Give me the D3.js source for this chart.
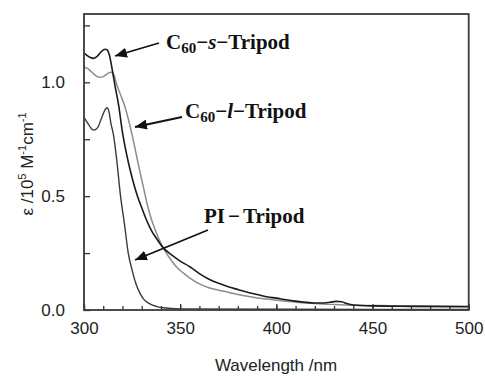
<!DOCTYPE html>
<html><head><meta charset="utf-8">
<script src="https://cdn.jsdelivr.net/npm/d3@7"></script>
<style>body{margin:0;background:#fff}svg{display:block}</style>
</head><body><svg id="c" width="485" height="376"></svg>
<script>
// C60-s-Tripod (black)
const sWl  = [300,303,305,307,309,311,312,313,315,316,318,320,322,324,326,328,330,332,335,338,341,345,350,355,360,365,370,375,380,385,390,395,400,405,410,415,420,425,428,431,434,437,440,450,470,500];
const sVal = [1.128,1.11,1.105,1.115,1.135,1.145,1.143,1.125,1.04,0.99,0.90,0.78,0.69,0.615,0.55,0.495,0.45,0.405,0.35,0.31,0.275,0.245,0.215,0.19,0.16,0.135,0.117,0.102,0.09,0.078,0.068,0.058,0.052,0.045,0.039,0.034,0.031,0.031,0.034,0.038,0.036,0.027,0.022,0.018,0.016,0.014];
// C60-l-Tripod (grey)
const lWl  = [300,302,304,306,308,310,312,314,315.5,317,319,321,323,325,327,329,331,333,335,337,339,341,344,348,352,356,360,365,370,375,380,385,390,395,400,410,420,430,440,460,500];
const lVal = [1.066,1.06,1.045,1.03,1.022,1.025,1.037,1.044,1.035,0.99,0.945,0.90,0.84,0.77,0.69,0.61,0.535,0.46,0.40,0.352,0.31,0.275,0.235,0.19,0.16,0.135,0.115,0.098,0.087,0.078,0.068,0.06,0.053,0.048,0.043,0.034,0.028,0.024,0.021,0.019,0.017];
// PI-Tripod (dark)
const pWl  = [300,302,304,305,307,309,311,312,313,314,315.3,317,319,321,323,325,327,329,331,334,338,341,350,400,500];
const pVal = [0.846,0.82,0.795,0.79,0.80,0.84,0.88,0.888,0.87,0.82,0.77,0.66,0.50,0.38,0.25,0.175,0.115,0.075,0.048,0.028,0.015,0.01,0.005,0.003,0.002];

const xTicks = [300,350,400,450,500];
const yTicks = [0,0.5,1.0];
const labels = ["C60-s-Tripod","C60-l-Tripod","PI-Tripod"];

const svg = d3.select("#c");
const m = {l:84, t:14, r:16.3, b:66};
const W = 485, H = 376;
const x = d3.scaleLinear().domain([300,500]).range([m.l, W-m.r]);
const y = d3.scaleLinear().domain([0,1.3]).range([H-m.b, m.t]);

// minor ticks
const xMinor = d3.range(300,501,10);
const yMinor = d3.range(0,1.31,0.25);
svg.append("g").attr("transform",`translate(0,${H-m.b})`)
  .call(d3.axisBottom(x).tickValues(xMinor).tickSize(-4).tickFormat(""))
  .call(g=>g.select(".domain").remove())
  .call(g=>g.selectAll("line").attr("stroke","#333").attr("stroke-width",1.3));
svg.append("g").attr("transform",`translate(0,${H-m.b})`)
  .call(d3.axisBottom(x).tickValues(xTicks).tickSize(-6).tickPadding(12).tickFormat(d3.format("d")))
  .call(g=>g.select(".domain").remove())
  .call(g=>g.selectAll("line").attr("stroke","#333").attr("stroke-width",1.3))
  .call(g=>g.selectAll("text").attr("font-family","Liberation Sans, Arial, sans-serif").attr("font-size",17).attr("fill","#222"));
svg.append("g").attr("transform",`translate(${m.l},0)`)
  .call(d3.axisLeft(y).tickValues(yMinor).tickSize(-6).tickFormat(""))
  .call(g=>g.select(".domain").remove())
  .call(g=>g.selectAll("line").attr("stroke","#333").attr("stroke-width",1.3));
svg.append("g").attr("transform",`translate(${m.l},0)`)
  .call(d3.axisLeft(y).tickValues(yTicks).tickSize(0).tickPadding(19).tickFormat(d3.format(".1f")))
  .call(g=>g.select(".domain").remove())
  .call(g=>g.selectAll("text").attr("font-family","Liberation Sans, Arial, sans-serif").attr("font-size",17).attr("fill","#222"));

const line = d3.line().x(d=>x(d[0])).y(d=>y(d[1])).curve(d3.curveMonotoneX);
const zip = (a,b)=>a.map((v,i)=>[v,b[i]]);
svg.append("path").attr("d",line(zip(lWl,lVal))).attr("fill","none").attr("stroke","#8c8c8c").attr("stroke-width",1.5);
svg.append("path").attr("d",line(zip(pWl,pVal))).attr("fill","none").attr("stroke","#3a3a3a").attr("stroke-width",1.4);
svg.append("path").attr("d",line(zip(sWl,sVal))).attr("fill","none").attr("stroke","#1a1a1a").attr("stroke-width",1.6);

// frame
svg.append("rect").attr("x",m.l).attr("y",m.t).attr("width",W-m.r-m.l).attr("height",H-m.b-m.t)
  .attr("fill","none").attr("stroke","#3a3a3a").attr("stroke-width",1.8);

// axis titles
svg.append("text").attr("x",276).attr("y",371).attr("text-anchor","middle")
  .attr("font-family","Liberation Sans, Arial, sans-serif").attr("font-size",17).attr("fill","#222").text("Wavelength /nm");
const yt = svg.append("text").attr("transform","translate(33,164) rotate(-90)").attr("text-anchor","middle")
  .attr("font-family","Liberation Sans, Arial, sans-serif").attr("font-size",17).attr("fill","#222");
yt.append("tspan").text("ε /10");
yt.append("tspan").attr("font-size",11).attr("dy",-7).text("5");
yt.append("tspan").attr("dy",7).text(" M");
yt.append("tspan").attr("font-size",11).attr("dy",-7).text("-1");
yt.append("tspan").attr("dy",7).text("cm");
yt.append("tspan").attr("font-size",11).attr("dy",-7).text("-1");

// annotations
const defs = svg.append("defs");
defs.append("marker").attr("id","ah").attr("viewBox","0 0 12 10").attr("refX",12).attr("refY",5)
  .attr("markerWidth",12).attr("markerHeight",10).attr("markerUnits","userSpaceOnUse").attr("orient","auto")
  .append("path").attr("d","M0,0L12,5L0,10Z").attr("fill","#111");
const arrows = [[159,43,115,56],[182,117,135,127],[208,230,135,260]];
arrows.forEach(a=>svg.append("line").attr("x1",a[0]).attr("y1",a[1]).attr("x2",a[2]).attr("y2",a[3])
  .attr("stroke","#111").attr("stroke-width",1.8).attr("marker-end","url(#ah)"));

const tf = "Liberation Serif, Times New Roman, serif";
function label(xp,yp){
  return svg.append("text").attr("x",xp).attr("y",yp).attr("font-family",tf).attr("font-size",21)
    .attr("font-weight","bold").attr("fill","#111");
}
let t1 = label(166,49);
t1.append("tspan").text("C");
t1.append("tspan").attr("font-size",15).attr("dy",4).text("60");
t1.append("tspan").attr("dy",-4).text("−");
t1.append("tspan").attr("font-style","italic").text("s");
t1.append("tspan").text("−Tripod");
let t2 = label(185,118);
t2.append("tspan").text("C");
t2.append("tspan").attr("font-size",15).attr("dy",4).text("60");
t2.append("tspan").attr("dy",-4).text("−");
t2.append("tspan").attr("font-style","italic").text("l");
t2.append("tspan").text("−Tripod");
let t3 = label(204,223);
t3.append("tspan").text("PI");
t3.append("tspan").attr("dx",3).text("−");
t3.append("tspan").attr("dx",3).text("Tripod");
</script></body></html>
